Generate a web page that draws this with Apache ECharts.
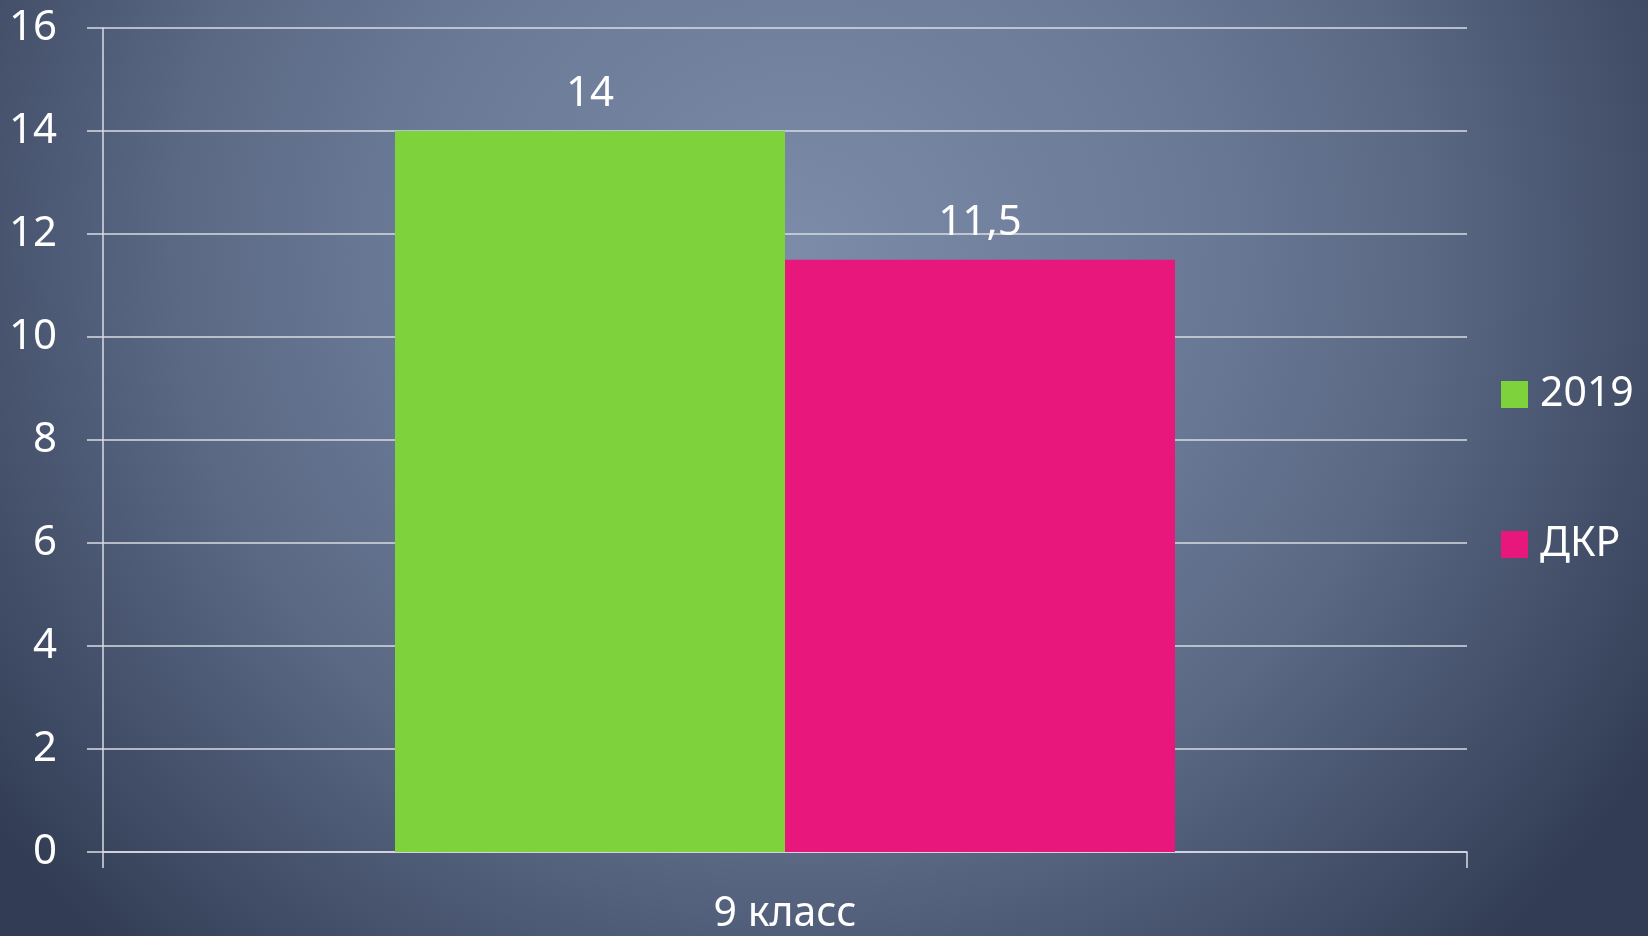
<!DOCTYPE html>
<html>
<head>
<meta charset="utf-8">
<script src="https://cdn.jsdelivr.net/npm/echarts@6/dist/echarts.min.js"></script>
<style>
  html, body { margin: 0; padding: 0; }
  #chart {
    width: 1648px;
    height: 936px;
    background: radial-gradient(ellipse 1000px 960px at 800px 250px,
      #7b8ba8 0%, #6a7995 40%, #5b6985 62%, #46526c 82%, #323d55 100%);
  }
</style>
</head>
<body>
<div id="chart"></div>
<script>
const categories = ["9 класс"];
const seriesNames = ["2019", "ДКР"];
const values2019 = [14];
const valuesDkr = [11.5];
const yMin = 0, yMax = 16, yStep = 2;

const textFont = "Noto Sans";
const lineColor = "#d9dce2";

const chart = echarts.init(document.getElementById("chart"), null, { renderer: "canvas" });

const labelFmt = (p) => String(p.value).replace(".", ",");

chart.setOption({
  backgroundColor: "transparent",
  textStyle: { fontFamily: textFont },
  grid: {
    left: 103,
    top: 28,
    right: 181,
    bottom: 84,
    outerBoundsMode: "none"
  },
  legend: {
    data: seriesNames,
    orient: "vertical",
    left: 1501,
    top: 374,
    padding: 0,
    icon: "rect",
    itemWidth: 27,
    itemHeight: 27,
    itemGap: 109,
    textStyle: { color: "#ffffff", fontSize: 41, fontFamily: textFont, padding: [0, 0, 0, 7] }
  },
  xAxis: {
    type: "category",
    data: categories,
    axisLine: { lineStyle: { color: lineColor, width: 1.5 } },
    axisTick: { show: true, length: 16, lineStyle: { color: lineColor, width: 1.5 } },
    axisLabel: { color: "#ffffff", fontSize: 41, margin: 42, fontFamily: textFont }
  },
  yAxis: {
    type: "value",
    min: yMin,
    max: yMax,
    interval: yStep,
    axisLine: { show: true, lineStyle: { color: lineColor, width: 1.5 } },
    axisTick: { show: true, length: 16, lineStyle: { color: lineColor, width: 1.5 } },
    splitLine: { lineStyle: { color: lineColor, width: 1.5 } },
    axisLabel: { color: "#ffffff", fontSize: 42, margin: 46, fontFamily: textFont }
  },
  series: [
    {
      name: seriesNames[0],
      type: "bar",
      data: values2019,
      barWidth: 390,
      barGap: "0%",
      itemStyle: { color: "#7ed33c" },
      label: { show: true, position: "top", distance: 16, color: "#ffffff", fontSize: 42, fontFamily: textFont, formatter: labelFmt }
    },
    {
      name: seriesNames[1],
      type: "bar",
      data: valuesDkr,
      barWidth: 390,
      barGap: "0%",
      itemStyle: { color: "#e8177c" },
      label: { show: true, position: "top", distance: 16, color: "#ffffff", fontSize: 42, fontFamily: textFont, formatter: labelFmt }
    }
  ]
});
</script>
</body>
</html>
